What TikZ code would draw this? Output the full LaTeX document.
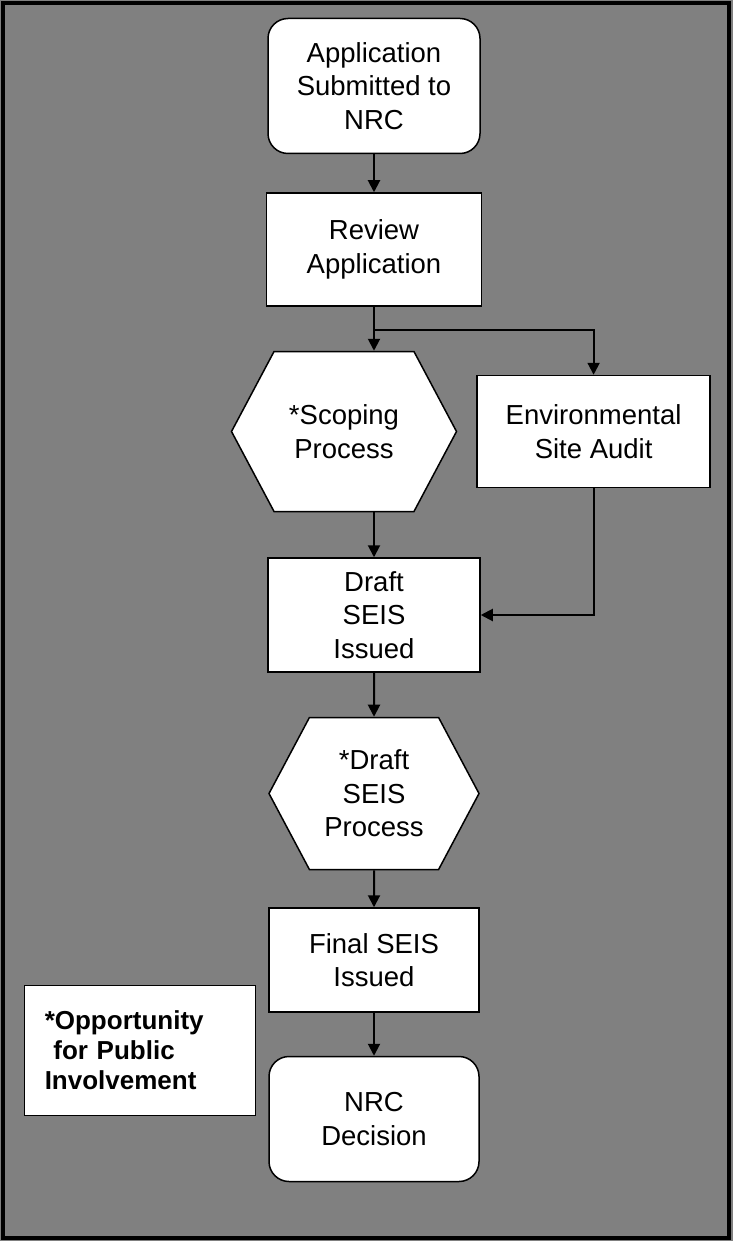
\documentclass[tikz,border=0pt]{standalone}
\usepackage{fontspec}
\setmainfont{Liberation Sans}
\usetikzlibrary{positioning,shapes.symbols,arrows.meta}

\begin{document}
\begin{tikzpicture}[x=1pt,y=-1pt]
	\tikzstyle{base}=[draw=black, line width=1.5pt, fill=white, align=center, inner sep=0pt, font=\fontsize{27.5}{33.5}\selectfont]
	\tikzstyle{terminal}=[base, rectangle, rounded corners=20pt]
	\tikzstyle{stepbox}=[base, rectangle]
	\tikzstyle{hexa}=[base, signal, signal to=west and east, signal pointer angle=124]
	\tikzstyle{connect}=[-{Triangle[length=12pt,width=12pt]}, line width=2pt]
	\tikzstyle{notebox}=[draw=black, line width=1pt, fill=white, align=left, inner xsep=20pt, text width=191pt, minimum height=130pt, font=\fontsize{26}{30}\selectfont\bfseries]
	% background and frame
	\useasboundingbox (0,0) rectangle (733,1241);
	\fill[black!50] (0,0) rectangle (733,1241);
	\draw[line width=4pt] (3,3) rectangle (729,1238);
	% main column
	\node[terminal, minimum width=212pt, minimum height=135pt] (app) at (374,86) {Application\\Submitted to\\NRC};
	\node[stepbox, minimum width=215pt, minimum height=113pt] (review) [below=38pt of app] {Review\\Application};
	\node[hexa, minimum width=225pt, minimum height=160pt] (scoping) [below=44pt of review, xshift=-30pt] {*Scoping\\Process};
	\node[stepbox, minimum width=233pt, minimum height=112pt] (audit) [right=19pt of scoping] {Environmental\\Site Audit};
	\node[stepbox, minimum width=212pt, minimum height=114pt] (draft) [below=45pt of scoping, xshift=30pt] {Draft\\SEIS\\Issued};
	\node[hexa, minimum width=210pt, minimum height=152pt] (draftproc) [below=44pt of draft] {*Draft\\SEIS\\Process};
	\node[stepbox, minimum width=210pt, minimum height=104pt] (final) [below=37pt of draftproc] {Final SEIS\\Issued};
	\node[terminal, minimum width=210pt, minimum height=125pt] (decision) [below=43pt of final] {NRC\\Decision};
	\node[notebox] (note) [left=12pt of decision, yshift=69pt] {*Opportunity\\\ for Public\\Involvement};
	% connectors
	\coordinate[below=23pt of review.south] (split);
	\draw[connect] (app) -- (review);
	\draw[connect] (review.south) -- (review.south |- scoping.north);
	\draw[connect] (split) -| (audit.north);
	\draw[connect] (draft.north |- scoping.south) -- (draft.north);
	\draw[connect] (audit.south) |- (draft.east);
	\draw[connect] (draft) -- (draftproc);
	\draw[connect] (draftproc) -- (final);
	\draw[connect] (final) -- (decision);
\end{tikzpicture}
\end{document}
